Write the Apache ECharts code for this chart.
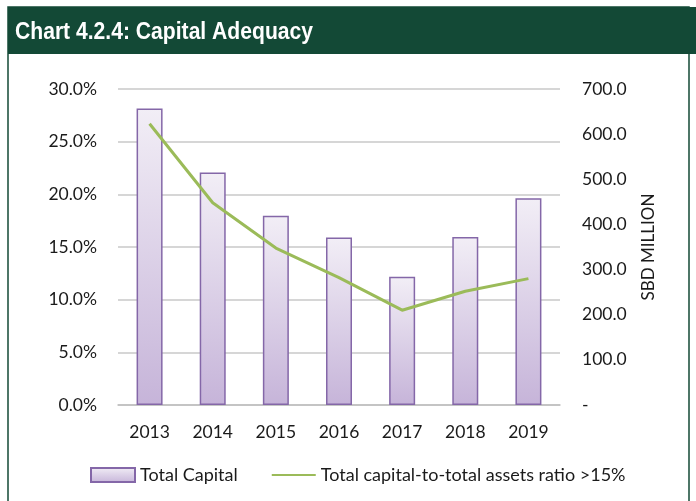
<!DOCTYPE html>
<html>
<head>
<meta charset="utf-8">
<script src="https://cdn.jsdelivr.net/npm/echarts@6/dist/echarts.min.js"></script>
<style>
    html, body { margin: 0; padding: 0; background: #fff; }
    #chart { width: 696px; height: 501px; }
</style>
</head>
<body>
<div id="chart"></div>
<script>
    // data
    var years = ['2013', '2014', '2015', '2016', '2017', '2018', '2019'];
    var totalCapital = [657, 515, 419, 371, 284, 372, 458];      // SBD million, right axis
    var capitalRatio = [26.7, 19.2, 14.9, 12.1, 9.0, 10.8, 12.0]; // %, left axis

    var green = '#134936';
    var font = 'Lato, "Noto Sans", sans-serif';
    var titleText = 'Chart 4.2.4: Capital Adequacy';
    var titleFont = 'bold 24px "Liberation Sans", sans-serif';

    // heading font is a condensed bold, squeeze a normal bold to the same width
    var ctx = document.createElement('canvas').getContext('2d');
    ctx.font = titleFont;
    var titleScale = 298 / ctx.measureText(titleText).width;

    var myChart = echarts.init(document.getElementById('chart'));
    myChart.setOption({
        animation: false,
        textStyle: { fontFamily: font },
        graphic: [
            // frame + green heading strip
            { type: 'rect', z: -1, shape: { x: 8, y: 7, width: 681, height: 500 },
              style: { fill: '#fff', stroke: green, lineWidth: 1.5 } },
            { type: 'rect', z: -1, shape: { x: 8, y: 7, width: 688, height: 47 },
              style: { fill: green } },
            { type: 'text', x: 15, y: 32, scaleX: titleScale,
              style: { text: titleText, font: titleFont, fill: '#fff', verticalAlign: 'middle' } }
        ],
        legend: {
            left: 85,
            top: 461,
            itemGap: 33,
            itemWidth: 44,
            itemHeight: 14,
            textStyle: { fontSize: 18, color: '#1a1a1a', fontFamily: font },
            data: [
                { name: 'Total Capital', icon: 'rect' },
                { name: 'Total capital-to-total assets ratio >15%',
                  itemStyle: { color: 'rgba(0,0,0,0)', borderWidth: 0 } }
            ]
        },
        grid: { left: 118, right: 136, top: 89, bottom: 96 },
        xAxis: {
            type: 'category',
            data: years,
            axisTick: { show: false },
            axisLine: { lineStyle: { color: '#bfbfbf', width: 1.5 } },
            axisLabel: { color: '#1a1a1a', fontSize: 17.5, margin: 18 }
        },
        yAxis: [{
            type: 'value',
            min: 0, max: 30, interval: 5,
            axisLine: { show: false },
            axisTick: { show: false },
            splitLine: { lineStyle: { color: '#c8c8c8', width: 1.5 } },
            axisLabel: {
                color: '#1a1a1a', fontSize: 17.5, margin: 21,
                formatter: function (v) { return v.toFixed(1) + '%'; }
            }
        }, {
            type: 'value',
            min: 0, max: 700, interval: 100,
            name: 'SBD MILLION',
            nameLocation: 'middle',
            nameRotate: 90,
            nameGap: 80,
            nameTextStyle: { color: '#1a1a1a', fontSize: 17 },
            axisLine: { show: false },
            axisTick: { show: false },
            splitLine: { show: false },
            axisLabel: {
                color: '#1a1a1a', fontSize: 17.5, margin: 22,
                formatter: function (v) { return v === 0 ? '-' : v.toFixed(1); }
            }
        }],
        series: [{
            name: 'Total Capital',
            type: 'bar',
            yAxisIndex: 1,
            barWidth: 26,
            data: totalCapital,
            itemStyle: {
                color: new echarts.graphic.LinearGradient(0, 0, 0, 1, [
                    { offset: 0, color: '#f2eef6' },
                    { offset: 1, color: '#c6b4d9' }
                ]),
                borderColor: '#8467a8',
                borderWidth: 1.5
            }
        }, {
            name: 'Total capital-to-total assets ratio >15%',
            type: 'line',
            yAxisIndex: 0,
            data: capitalRatio,
            symbol: 'none',
            lineStyle: { color: '#9bbb59', width: 3 },
            itemStyle: { color: '#9bbb59' },
            z: 3
        }]
    });
</script>
</body>
</html>
